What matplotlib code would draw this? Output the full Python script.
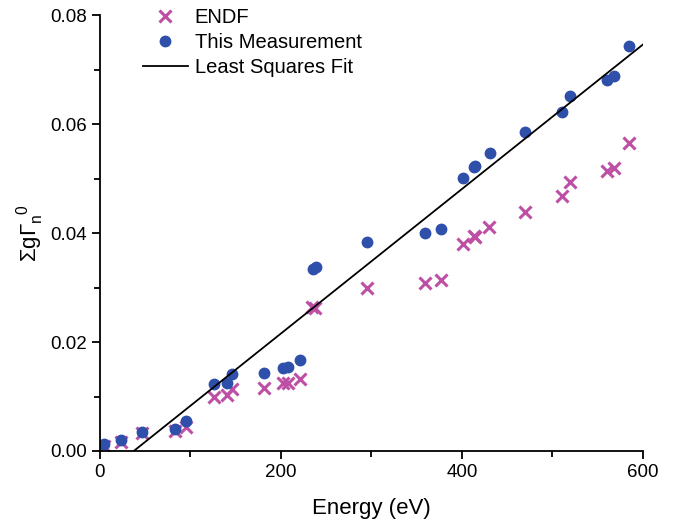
import numpy as np
import matplotlib.pyplot as plt
from matplotlib.ticker import MultipleLocator

plt.rcParams['font.family'] = ['Liberation Sans', 'DejaVu Sans']
plt.rcParams['mathtext.fontset'] = 'custom'
plt.rcParams['mathtext.rm'] = 'Liberation Sans'
plt.rcParams['mathtext.it'] = 'Liberation Sans'

# measured resonances (energy in eV, sum g*Gamma_n^0)
meas_E = [5, 23, 47, 83, 95, 126, 141, 146, 181, 202, 208, 221, 235, 239,
          295, 359, 377, 401, 413, 415, 431, 470, 511, 519, 560, 568, 585]
meas_y = [0.0013, 0.0020, 0.0035, 0.0040, 0.0055, 0.0123, 0.0125, 0.0141,
          0.0143, 0.0152, 0.0154, 0.0167, 0.0334, 0.0338, 0.0384, 0.0400,
          0.0407, 0.0501, 0.0521, 0.0523, 0.0547, 0.0585, 0.0622, 0.0651,
          0.0681, 0.0688, 0.0743]

endf_E = [5, 23, 47, 83, 95, 126, 141, 146, 181, 202, 208, 221, 234, 238,
          295, 359, 377, 401, 413, 415, 430, 470, 511, 519, 560, 568, 585]
endf_y = [0.0009, 0.0017, 0.0033, 0.0036, 0.0044, 0.0099, 0.0103, 0.0114,
          0.0116, 0.0125, 0.0125, 0.0132, 0.0264, 0.0262, 0.0299, 0.0308,
          0.0314, 0.0380, 0.0394, 0.0393, 0.0411, 0.0439, 0.0468, 0.0493,
          0.0514, 0.0519, 0.0565]

# least squares line
fit_slope = 0.0001327
fit_x0 = 37.6   # energy where fit crosses zero
fit_E = [0, 600]

fig = plt.figure(figsize=(6.74, 5.25), dpi=100)
ax = fig.add_axes([0.148, 0.141, 0.806, 0.830])

ax.plot(endf_E, endf_y, 'x', color='#BE4FA5', ms=9, mew=2.2, ls='none', label='ENDF')
ax.plot(meas_E, meas_y, 'o', color='#2E4FAA', ms=7.5, ls='none', label='This Measurement')
ax.plot(fit_E, [fit_slope * (e - fit_x0) for e in fit_E], color='black', lw=1.3,
        label='Least Squares Fit')

ax.set_xlim(0, 600)
ax.set_ylim(0, 0.08)
ax.xaxis.set_major_locator(MultipleLocator(200))
ax.xaxis.set_minor_locator(MultipleLocator(100))
ax.yaxis.set_major_locator(MultipleLocator(0.02))
ax.yaxis.set_minor_locator(MultipleLocator(0.01))
ax.yaxis.set_major_formatter(plt.FuncFormatter(lambda v, p: '%.2f' % v))
ax.spines['top'].set_visible(False)
ax.spines['right'].set_visible(False)
for s in ['left', 'bottom']:
    ax.spines[s].set_linewidth(1.3)
ax.tick_params(which='major', direction='out', length=6, width=1.3, labelsize=13.5)
ax.tick_params(which='minor', direction='out', length=4, width=1.3)

ax.set_xlabel('Energy (eV)', fontsize=16, labelpad=12)
ax.set_ylabel(r'$\Sigma$g$\Gamma_{\mathrm{n}}^{\ \ \mathrm{0}}$', fontsize=16, labelpad=3)

ax.legend(loc='upper left', bbox_to_anchor=(0.08, 1.016), frameon=False, fontsize=14.5,
          handlelength=2.2, handletextpad=0.35, labelspacing=0.3, borderaxespad=0,
          borderpad=0)

fig.savefig('out.png', dpi=100)
